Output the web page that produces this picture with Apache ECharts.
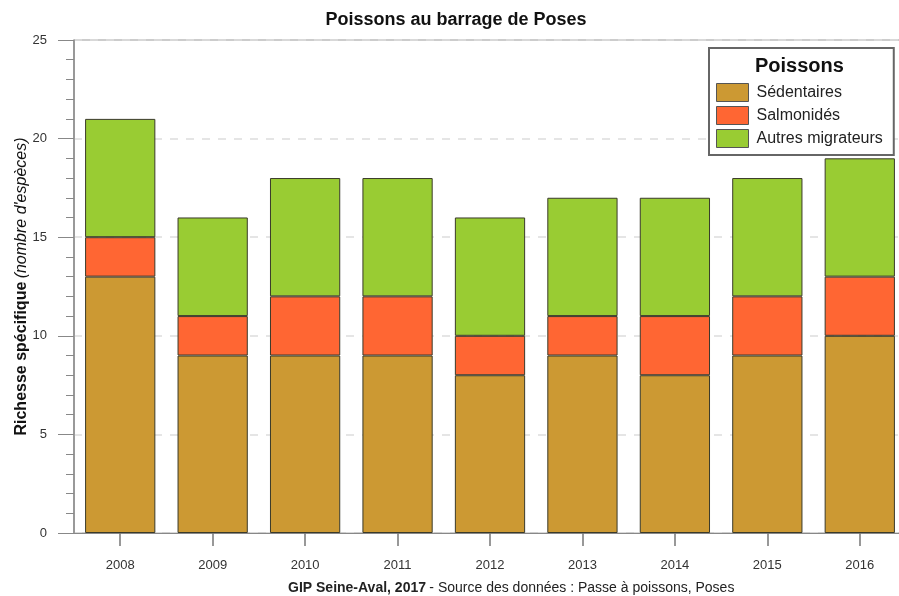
<!DOCTYPE html>
<html>
<head>
<meta charset="utf-8">
<script src="https://cdn.jsdelivr.net/npm/echarts@6/dist/echarts.min.js"></script>
<style>
html,body{margin:0;padding:0;background:#fff;overflow:hidden;width:899px;height:596px;}
#chart{width:906px;height:596px;}
</style>
</head>
<body>
<div id="chart"></div>
<script>
var years = ['2008','2009','2010','2011','2012','2013','2014','2015','2016'];
var sedentaires = [13, 9, 9, 9, 8, 9, 8, 9, 10];
var salmonides = [2, 2, 3, 3, 2, 2, 3, 3, 3];
var autresMigrateurs = [6, 5, 6, 6, 6, 6, 6, 6, 6];
var seriesNames = ['Sédentaires', 'Salmonidés', 'Autres migrateurs'];
var colors = ['#CC9933', '#FF6633', '#99CC33'];

var font = 'Liberation Sans, Arial, sans-serif';
var chart = echarts.init(document.getElementById('chart'));

function mk(name, data, color) {
  return {
    name: name, type: 'bar', stack: 'total', data: data, barWidth: '76%',
    itemStyle: { color: color, borderColor: '#3a3a2a', borderWidth: 1 },
    emphasis: { disabled: true }
  };
}

chart.setOption({
  animation: false,
  textStyle: { fontFamily: font },
  grid: { left: 74, top: 40, right: 0, bottom: 63, show: true, borderColor: '#999', borderWidth: 1, backgroundColor: 'transparent' },
  legend: {
    orient: 'vertical', left: 709, top: 48,
    padding: [35, 11, 7, 7],
    borderColor: '#666', borderWidth: 2, backgroundColor: '#fff',
    icon: 'rect',
    itemWidth: 32, itemHeight: 18, itemGap: 4,
    itemStyle: { borderColor: '#555', borderWidth: 1 },
    textStyle: { fontFamily: font, fontSize: 16, color: '#222', padding: [0, 0, 0, 3] },
    data: seriesNames
  },
  graphic: [
    { type: 'text', x: 456, y: 11,
      style: { text: 'Poissons au barrage de Poses', font: 'bold 18px ' + font, fill: '#111', align: 'center' } },
    { type: 'text', left: 755, top: 56, z: 100,
      style: { text: 'Poissons', font: 'bold 20px ' + font, fill: '#111' } },
    { type: 'text', left: 288, top: 581,
      style: {
        rich: {
          b: { fontFamily: font, fontSize: 14, fontWeight: 'bold', fill: '#222' },
          n: { fontFamily: font, fontSize: 14, fill: '#222' }
        },
        text: '{b|GIP Seine-Aval, 2017} {n|- Source des données : Passe à poissons, Poses}'
      } }
  ],
  xAxis: {
    type: 'category', data: years, boundaryGap: true,
    axisLine: { show: true, lineStyle: { color: '#888', width: 1 } },
    axisTick: { show: true, alignWithLabel: true, length: 13, lineStyle: { color: '#777', width: 1.5 } },
    axisLabel: { margin: 26, fontSize: 13, color: '#333', fontFamily: font }
  },
  yAxis: {
    type: 'value', min: 0, max: 25, interval: 5,
    name: '{b|Richesse spécifique} {i|(nombre d\'espèces)}',
    nameLocation: 'middle', nameGap: 44, nameRotate: 90,
    nameMoveOverlap: false,
    nameTextStyle: {
      rich: {
        b: { fontFamily: font, fontSize: 16, fontWeight: 'bold', color: '#111' },
        i: { fontFamily: font, fontSize: 16, fontStyle: 'italic', color: '#111' }
      }
    },
    axisLine: { show: true, lineStyle: { color: '#888', width: 1.5 } },
    axisTick: { show: true, length: 16, lineStyle: { color: '#888' } },
    minorTick: { show: true, splitNumber: 5, length: 8, lineStyle: { color: '#888' } },
    axisLabel: { margin: 27, fontSize: 13, color: '#333', fontFamily: font },
    splitLine: { show: true, lineStyle: { color: '#ddd', type: [8, 8], width: 1.5 } }
  },
  series: [
    mk(seriesNames[0], sedentaires, colors[0]),
    mk(seriesNames[1], salmonides, colors[1]),
    mk(seriesNames[2], autresMigrateurs, colors[2])
  ]
});
</script>
</body>
</html>
